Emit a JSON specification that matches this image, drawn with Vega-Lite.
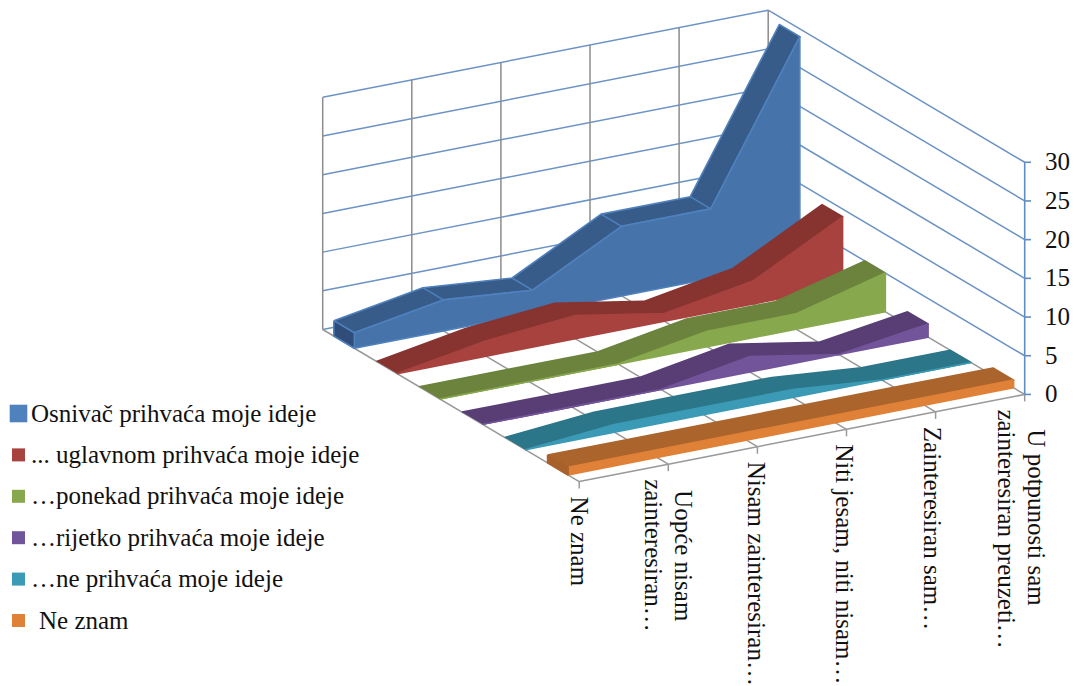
{
"$schema":"https://vega.github.io/schema/vega-lite/v6.json",
"autosize":{"type":"fit","contains":"padding"},
"width":1074,"height":686,"padding":0,"background":"white",
"config":{"view":{"stroke":null},"text":{"font":"Liberation Serif"}},
"params":[
{"name":"catList","expr":"['Ne znam','Uopće nisam zainteresiran…','Nisam zainteresiran…','Niti jesam, niti nisam…','Zainteresiran sam…','U potpunosti sam zainteresiran preuzeti…']"},
{"name":"serList","expr":"['Osnivač prihvaća moje ideje','... uglavnom prihvaća moje ideje','…ponekad prihvaća moje ideje','…rijetko prihvaća moje ideje','…ne prihvaća moje ideje','Ne znam']"}
],
"datasets":{
"bars":[
{"series":"Osnivač prihvaća moje ideje","category":"Ne znam","value":2},
{"series":"Osnivač prihvaća moje ideje","category":"Uopće nisam zainteresiran…","value":4},
{"series":"Osnivač prihvaća moje ideje","category":"Nisam zainteresiran…","value":3},
{"series":"Osnivač prihvaća moje ideje","category":"Niti jesam, niti nisam…","value":9},
{"series":"Osnivač prihvaća moje ideje","category":"Zainteresiran sam…","value":9},
{"series":"Osnivač prihvaća moje ideje","category":"U potpunosti sam zainteresiran preuzeti…","value":29},
{"series":"... uglavnom prihvaća moje ideje","category":"Ne znam","value":0},
{"series":"... uglavnom prihvaća moje ideje","category":"Uopće nisam zainteresiran…","value":2},
{"series":"... uglavnom prihvaća moje ideje","category":"Nisam zainteresiran…","value":3},
{"series":"... uglavnom prihvaća moje ideje","category":"Niti jesam, niti nisam…","value":1},
{"series":"... uglavnom prihvaća moje ideje","category":"Zainteresiran sam…","value":3},
{"series":"... uglavnom prihvaća moje ideje","category":"U potpunosti sam zainteresiran preuzeti…","value":9},
{"series":"…ponekad prihvaća moje ideje","category":"Ne znam","value":0},
{"series":"…ponekad prihvaća moje ideje","category":"Uopće nisam zainteresiran…","value":0},
{"series":"…ponekad prihvaća moje ideje","category":"Nisam zainteresiran…","value":0},
{"series":"…ponekad prihvaća moje ideje","category":"Niti jesam, niti nisam…","value":2},
{"series":"…ponekad prihvaća moje ideje","category":"Zainteresiran sam…","value":2},
{"series":"…ponekad prihvaća moje ideje","category":"U potpunosti sam zainteresiran preuzeti…","value":5},
{"series":"…rijetko prihvaća moje ideje","category":"Ne znam","value":0},
{"series":"…rijetko prihvaća moje ideje","category":"Uopće nisam zainteresiran…","value":0},
{"series":"…rijetko prihvaća moje ideje","category":"Nisam zainteresiran…","value":0},
{"series":"…rijetko prihvaća moje ideje","category":"Niti jesam, niti nisam…","value":2},
{"series":"…rijetko prihvaća moje ideje","category":"Zainteresiran sam…","value":0},
{"series":"…rijetko prihvaća moje ideje","category":"U potpunosti sam zainteresiran preuzeti…","value":1.7},
{"series":"…ne prihvaća moje ideje","category":"Ne znam","value":0},
{"series":"…ne prihvaća moje ideje","category":"Uopće nisam zainteresiran…","value":1},
{"series":"…ne prihvaća moje ideje","category":"Nisam zainteresiran…","value":1},
{"series":"…ne prihvaća moje ideje","category":"Niti jesam, niti nisam…","value":1},
{"series":"…ne prihvaća moje ideje","category":"Zainteresiran sam…","value":0},
{"series":"…ne prihvaća moje ideje","category":"U potpunosti sam zainteresiran preuzeti…","value":0},
{"series":"Ne znam","category":"Ne znam","value":1},
{"series":"Ne znam","category":"Uopće nisam zainteresiran…","value":1},
{"series":"Ne znam","category":"Nisam zainteresiran…","value":1},
{"series":"Ne znam","category":"Niti jesam, niti nisam…","value":1},
{"series":"Ne znam","category":"Zainteresiran sam…","value":1},
{"series":"Ne znam","category":"U potpunosti sam zainteresiran preuzeti…","value":1}
],
"vals":[{"value":0},{"value":5},{"value":10},{"value":15},{"value":20},{"value":25},{"value":30}],
"cats":[{"category":"Ne znam"},{"category":"Uopće nisam zainteresiran…"},{"category":"Nisam zainteresiran…"},{"category":"Niti jesam, niti nisam…"},{"category":"Zainteresiran sam…"},{"category":"U potpunosti sam zainteresiran preuzeti…"}],
"labels":[
{"category":"Ne znam","line":"Ne znam","lineNo":0,"lines":1},
{"category":"Uopće nisam zainteresiran…","line":"Uopće nisam","lineNo":0,"lines":2},
{"category":"Uopće nisam zainteresiran…","line":"zainteresiran…","lineNo":1,"lines":2},
{"category":"Nisam zainteresiran…","line":"Nisam zainteresiran…","lineNo":0,"lines":1},
{"category":"Niti jesam, niti nisam…","line":"Niti jesam, niti nisam…","lineNo":0,"lines":1},
{"category":"Zainteresiran sam…","line":"Zainteresiran sam…","lineNo":0,"lines":1},
{"category":"U potpunosti sam zainteresiran preuzeti…","line":"U potpunosti sam","lineNo":0,"lines":2},
{"category":"U potpunosti sam zainteresiran preuzeti…","line":"zainteresiran preuzeti…","lineNo":1,"lines":2}
]
},
"resolve":{"scale":{"fill":"independent","stroke":"independent"}},
"encoding":{
"x":{"field":"X","type":"quantitative","scale":{"domain":[0,1074],"nice":false,"zero":false},"axis":null},
"y":{"field":"Y","type":"quantitative","scale":{"domain":[686,0],"nice":false,"zero":false},"axis":null}
},
"layer":[
{"data":{"name":"vals"},
"transform":[{"calculate":"322.7","as":"X"},{"calculate":"330-7.75*datum.value","as":"Y"},{"calculate":"322.7+445.5","as":"X1"},{"calculate":"330-87.3-7.75*datum.value","as":"Y1"}],
"mark":{"type":"rule","color":"#6b93c5","strokeWidth":1.5},
"encoding":{"x2":{"field":"X1"},"y2":{"field":"Y1"}}},
{"data":{"name":"vals"},
"transform":[{"filter":"datum.value>0"},{"calculate":"322.7+445.5","as":"X"},{"calculate":"330-87.3-7.75*datum.value","as":"Y"},{"calculate":"322.7+445.5+256.5","as":"X1"},{"calculate":"330-87.3+152.3-7.75*datum.value","as":"Y1"}],
"mark":{"type":"rule","color":"#6b93c5","strokeWidth":1.5},
"encoding":{"x2":{"field":"X1"},"y2":{"field":"Y1"}}},
{"data":{"name":"cats"},
"transform":[{"calculate":"indexof(catList,datum.category)","as":"c"},{"calculate":"322.7+89.1*datum.c","as":"X"},{"calculate":"330-17.46*datum.c","as":"Y"},{"calculate":"datum.X","as":"X1"},{"calculate":"datum.Y-232.5","as":"Y1"}],
"mark":{"type":"rule","color":"#8c8c8c","strokeWidth":1.5},
"encoding":{"x2":{"field":"X1"},"y2":{"field":"Y1"}}},
{"data":{"name":"cats"},
"transform":[{"calculate":"indexof(catList,datum.category)","as":"c"},{"calculate":"322.7+89.1*datum.c","as":"X"},{"calculate":"330-17.46*datum.c","as":"Y"},{"calculate":"datum.X+256.5","as":"X1"},{"calculate":"datum.Y+152.3","as":"Y1"}],
"mark":{"type":"rule","color":"#999999","strokeWidth":1.5},
"encoding":{"x2":{"field":"X1"},"y2":{"field":"Y1"}}},
{"data":{"name":"cats"},
"transform":[{"calculate":"indexof(catList,datum.category)","as":"c"},{"filter":"datum.c<5"},{"calculate":"322.7+89.1*datum.c+256.5","as":"X"},{"calculate":"330-17.46*datum.c+152.3","as":"Y"},{"calculate":"datum.X+89.1","as":"X1"},{"calculate":"datum.Y-17.46","as":"Y1"}],
"mark":{"type":"rule","color":"#999999","strokeWidth":1.5},
"encoding":{"x2":{"field":"X1"},"y2":{"field":"Y1"}}},
{"data":{"name":"cats"},
"transform":[{"calculate":"indexof(catList,datum.category)","as":"c"},{"calculate":"322.7+89.1*datum.c+256.5","as":"X"},{"calculate":"330-17.46*datum.c+152.3","as":"Y"},{"calculate":"datum.X","as":"X1"},{"calculate":"datum.Y+7","as":"Y1"}],
"mark":{"type":"rule","color":"#999999","strokeWidth":1.5},
"encoding":{"x2":{"field":"X1"},"y2":{"field":"Y1"}}},
{"data":{"name":"vals"},
"transform":[{"filter":"datum.value<30"},{"calculate":"1024.7","as":"X"},{"calculate":"395-7.75*datum.value","as":"Y"},{"calculate":"1024.7","as":"X1"},{"calculate":"datum.Y-38.75","as":"Y1"}],
"mark":{"type":"rule","color":"#5f8cc4","strokeWidth":1.6},
"encoding":{"x2":{"field":"X1"},"y2":{"field":"Y1"}}},
{"data":{"name":"vals"},
"transform":[{"calculate":"1024.7","as":"X"},{"calculate":"395-7.75*datum.value","as":"Y"},{"calculate":"1031","as":"X1"},{"calculate":"datum.Y","as":"Y1"}],
"mark":{"type":"rule","color":"#5f8cc4","strokeWidth":1.6},
"encoding":{"x2":{"field":"X1"},"y2":{"field":"Y1"}}},
{"data":{"name":"bars"},
"transform":[
{"calculate":"indexof(catList,datum.category)","as":"c"},
{"calculate":"indexof(serList,datum.series)","as":"s"},
{"calculate":"(datum.s+0.5)/6","as":"tm"},
{"calculate":"['top','front']","as":"faces"},
{"flatten":["faces"],"as":["face"]},
{"calculate":"[0,1]","as":"edges"},
{"flatten":["edges"],"as":["edge"]},
{"calculate":"(datum.face==='front'||datum.edge===0)?datum.tm+0.04:datum.tm-0.04","as":"t"},
{"calculate":"(datum.face==='front'&&datum.edge===1)?0:datum.value","as":"vv"},
{"calculate":"datum.edge===0?datum.c:11-datum.c","as":"ord"},
{"calculate":"datum.s+datum.face","as":"key"},
{"calculate":"322.7+89.1*datum.c+256.5*datum.t","as":"X"},
{"calculate":"330-17.46*datum.c+152.3*datum.t-7.75*datum.vv","as":"Y"}
],
"mark":{"type":"line","strokeWidth":1.6,"strokeJoin":"round","point":false},
"encoding":{
"order":{"field":"ord","type":"quantitative"},
"fill":{"field":"key","type":"nominal","legend":null,"scale":{"domain":["0top","0front","1top","1front","2top","2front","3top","3front","4top","4front","5top","5front"],"range":["#375c8a","#4673aa","#873430","#a8423f","#6b833c","#88a84d","#593e76","#72549a","#2c7689","#3b9ab5","#ab652c","#e08138"]}},
"stroke":{"field":"key","type":"nominal","legend":null,"scale":{"domain":["0top","0front","1top","1front","2top","2front","3top","3front","4top","4front","5top","5front"],"range":["#4f81bd","#4f81bd","#873430","#a8423f","#6b833c","#88a84d","#593e76","#72549a","#2c7689","#3b9ab5","#ab652c","#e08138"]}}
}},
{"data":{"name":"bars"},
"transform":[
{"filter":"datum.series==='Osnivač prihvaća moje ideje'&&datum.category!=='U potpunosti sam zainteresiran preuzeti…'&&datum.category!=='Ne znam'"},
{"calculate":"indexof(catList,datum.category)","as":"c"},
{"calculate":"322.7+89.1*datum.c+256.5*0.1233","as":"X"},
{"calculate":"330-17.46*datum.c+152.3*0.1233-7.75*datum.value","as":"Y"},
{"calculate":"322.7+89.1*datum.c+256.5*0.0433","as":"X1"},
{"calculate":"330-17.46*datum.c+152.3*0.0433-7.75*datum.value","as":"Y1"}
],
"mark":{"type":"rule","color":"#4f81bd","strokeWidth":1.5},
"encoding":{"x2":{"field":"X1"},"y2":{"field":"Y1"}}},
{"data":{"name":"bars"},
"transform":[
{"filter":"datum.category==='Ne znam'&&datum.value>0"},
{"calculate":"indexof(serList,datum.series)","as":"s"},
{"calculate":"(datum.s+0.5)/6","as":"tm"},
{"calculate":"[0,1,2,3,4]","as":"verts"},
{"flatten":["verts"],"as":["vert"]},
{"calculate":"(datum.vert===1||datum.vert===2)?datum.tm+0.04:datum.tm-0.04","as":"t"},
{"calculate":"(datum.vert<2||datum.vert===4)?datum.value:0","as":"vv"},
{"calculate":"322.7+256.5*datum.t","as":"X"},
{"calculate":"330+152.3*datum.t-7.75*datum.vv","as":"Y"},
{"calculate":"'s'+datum.s","as":"key"}
],
"mark":{"type":"line","strokeWidth":1.6,"strokeJoin":"round"},
"encoding":{
"order":{"field":"vert","type":"quantitative"},
"fill":{"field":"key","type":"nominal","legend":null,"scale":{"domain":["s0","s5"],"range":["#2f4d78","#a8612b"]}},
"stroke":{"field":"key","type":"nominal","legend":null,"scale":{"domain":["s0","s5"],"range":["#4f81bd","#a8612b"]}}
}},
{"data":{"name":"labels"},
"transform":[
{"calculate":"indexof(catList,datum.category)","as":"c"},
{"calculate":"579.2+89.1*datum.c-0.8*datum.c+(datum.lines===2?(datum.lineNo===0?15:-15):0)","as":"X"},
{"calculate":"482.3-17.46*datum.c+15+(datum.lines===2&&datum.lineNo===0?(datum.c===1?11:20):0)","as":"Y"}
],
"mark":{"type":"text","font":"Liberation Serif","fontSize":25,"angle":90,"align":"left","baseline":"middle","color":"#111111"},
"encoding":{"text":{"field":"line","type":"nominal"}}},
{"data":{"name":"vals"},
"transform":[{"calculate":"1045","as":"X"},{"calculate":"395-7.75*datum.value","as":"Y"}],
"mark":{"type":"text","font":"Liberation Serif","fontSize":25,"align":"left","baseline":"middle","color":"#111111"},
"encoding":{"text":{"field":"value","type":"quantitative"}}},
{"data":{"name":"bars"},
"transform":[{"calculate":"300","as":"X"},{"calculate":"300","as":"Y"}],
"mark":{"type":"square","opacity":0},
"encoding":{
"fill":{"field":"series","type":"nominal","scale":{"domain":["Osnivač prihvaća moje ideje","... uglavnom prihvaća moje ideje","…ponekad prihvaća moje ideje","…rijetko prihvaća moje ideje","…ne prihvaća moje ideje","Ne znam"],"range":["#4f81bd","#a8423f","#88a84d","#72549a","#3b9ab5","#e08138"]},
"legend":{"orient":"none","legendX":6,"legendY":401,"title":null,"symbolType":"square","symbolSize":169,"symbolOpacity":1,"symbolStrokeWidth":0,"labelFont":"Liberation Serif","labelFontSize":25,"labelColor":"#111111","labelLimit":600,"labelOffset":0,"rowPadding":15.4,
"encode":{"symbols":{"update":{"size":{"signal":"datum.value==='Osnivač prihvaća moje ideje'?310:169"}}},"labels":{"update":{"dx":{"signal":"datum.value==='Ne znam'?8:0"}}}}}}
}}
]
}
